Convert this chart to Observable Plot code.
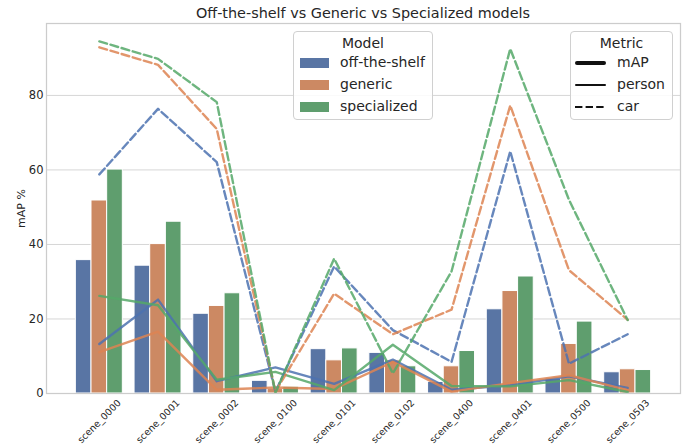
<!DOCTYPE html>
<html>
<head>
<meta charset="utf-8">
<script src="https://cdn.jsdelivr.net/npm/d3@7"></script>
<script src="https://cdn.jsdelivr.net/npm/@observablehq/plot@0.6"></script>
<style>
  html, body { margin: 0; padding: 0; background: #fff; }
  body { font-family: "DejaVu Sans", sans-serif; color: #262626; }
  #wrap { position: relative; width: 691px; height: 444px; overflow: hidden; }
  #title { position: absolute; left: 46px; width: 634px; top: 5px; text-align: center; font-size: 14.4px; color: #262626; white-space: nowrap; }
  .legend { position: absolute; border: 1px solid #d0d0d0; border-radius: 4px; background: rgba(255,255,255,0.85); box-sizing: border-box; }
  .legend .lt { position: absolute; left: 0; right: 0; top: 3px; text-align: center; font-size: 14px; }
  .legend .item { position: absolute; font-size: 14px; white-space: nowrap; }
  .legend .sw { position: absolute; }
</style>
</head>
<body>
<div id="wrap">
  <div id="chart"></div>
  <div id="title">Off-the-shelf vs Generic vs Specialized models</div>
  <div class="legend" id="legModel" style="left:293px; top:31px; width:140px; height:89px;"></div>
  <div class="legend" id="legMetric" style="left:570px; top:31px; width:103px; height:89px;"></div>
</div>
<script>
// ---- data ----
const scenes = ["scene_0000","scene_0001","scene_0002","scene_0100","scene_0101","scene_0102","scene_0400","scene_0401","scene_0500","scene_0503"];
const models = ["off-the-shelf","generic","specialized"];
const metrics = ["mAP","person","car"];

const mapOffTheShelf = [35.8, 34.3, 21.4, 3.4, 11.9, 10.9, 3.1, 22.6, 4.0, 5.7];
const mapGeneric     = [51.8, 40.1, 23.5, 1.2, 8.9, 8.9, 7.3, 27.5, 13.3, 6.5];
const mapSpecialized = [60.1, 46.1, 26.9, 1.8, 12.1, 7.3, 11.4, 31.4, 19.3, 6.3];

const personOffTheShelf = [13.3, 25.2, 3.3, 7.0, 2.6, 9.1, 1.0, 2.2, 4.6, 1.5];
const personGeneric     = [11.1, 16.6, 1.0, 1.6, 1.2, 8.5, 0.5, 2.8, 4.9, 0.9];
const personSpecialized = [26.2, 23.7, 3.7, 5.8, 0.9, 13.1, 2.0, 1.9, 3.6, 0.4];

const carOffTheShelf = [58.8, 76.4, 62.1, 0.5, 34.1, 17.0, 8.5, 65.0, 8.0, 15.9];
const carGeneric     = [92.9, 88.2, 71.0, 0.5, 26.8, 15.9, 22.5, 77.3, 33.1, 19.8];
const carSpecialized = [94.5, 89.8, 78.2, 0.2, 36.2, 5.4, 32.8, 92.5, 52.0, 19.7];

const yTicks = [0, 20, 40, 60, 80];

// ---- styling ----
const barColors  = ["#5975a4", "#cc8963", "#5f9e6e"];
const lineColors = ["#4c72b0", "#dd8452", "#55a868"];
const groupWidth = 0.8;
const bw = groupWidth / models.length;

const mapSeries = [mapOffTheShelf, mapGeneric, mapSpecialized];
const personSeries = [personOffTheShelf, personGeneric, personSpecialized];
const carSeries = [carOffTheShelf, carGeneric, carSpecialized];

const barMarks = mapSeries.map((vals, k) =>
  Plot.rectY(vals.map((v, i) => ({i, v})), {
    x1: d => d.i + (k - 1) * bw - bw / 2,
    x2: d => d.i + (k - 1) * bw + bw / 2,
    y1: 0, y2: "v",
    fill: barColors[k], stroke: "white", strokeWidth: 1
  })
);
const personMarks = personSeries.map((vals, k) =>
  Plot.line(vals.map((v, i) => ({i, v})), {x: "i", y: "v", stroke: lineColors[k], strokeWidth: 2.4, strokeOpacity: 0.85})
);
const carMarks = carSeries.map((vals, k) =>
  Plot.line(vals.map((v, i) => ({i, v})), {x: "i", y: "v", stroke: lineColors[k], strokeWidth: 2.4, strokeOpacity: 0.85, strokeDasharray: "8,3.6"})
);

const chart = Plot.plot({
  width: 691,
  height: 444,
  marginTop: 23,
  marginLeft: 46,
  marginRight: 11,
  marginBottom: 51,
  style: {fontFamily: "DejaVu Sans, sans-serif", color: "#262626", background: "transparent"},
  x: {domain: [-0.9, 9.9], axis: null},
  y: {domain: [0, 99.3], axis: null},
  marks: [
    Plot.gridY(yTicks, {stroke: "#d6d6d6", strokeOpacity: 1, strokeWidth: 1}),
    Plot.axisY(yTicks, {tickSize: 0, tickPadding: 3, fontSize: 11.5, label: null, tickFormat: d => String(d)}),
    ...barMarks,
    ...personMarks,
    ...carMarks,
    Plot.frame({stroke: "#cccccc", strokeWidth: 1.25}),
    Plot.text(scenes, {x: (d, i) => i, text: d => d, frameAnchor: "bottom", dy: 28, rotate: -45, textAnchor: "middle", lineAnchor: "middle", fontSize: 9.5, fill: "#262626"}),
    Plot.text(["mAP %"], {frameAnchor: "left", dx: -25, rotate: -90, textAnchor: "middle", lineAnchor: "middle", fontSize: 11, fill: "#262626"})
  ]
});
document.getElementById("chart").appendChild(chart);

// ---- legends ----
const lm = document.getElementById("legModel");
lm.innerHTML = `<div class="lt">Model</div>` + models.map((m, k) => {
  const cy = 31 + 22 * k;
  return `<div class="sw" style="left:6px; top:${cy - 5}px; width:29px; height:10px; background:${barColors[k]};"></div>` +
         `<div class="item" style="left:46px; top:${cy - 9}px; line-height:17px;">${m}</div>`;
}).join("");

const lt = document.getElementById("legMetric");
lt.innerHTML = `<div class="lt">Metric</div>` + metrics.map((m, k) => {
  const cy = 31 + 22 * k;
  const t = k === 0 ? 4 : 2;
  let sw;
  if (k === 2) {
    sw = `<svg class="sw" style="left:4px; top:${cy - 2}px;" width="31" height="4"><line x1="0" x2="31" y1="2" y2="2" stroke="#111" stroke-width="2" stroke-dasharray="7.4,3.2"/></svg>`;
  } else {
    sw = `<div class="sw" style="left:4px; top:${cy - t/2}px; width:31px; height:${t}px; background:#111; border-radius:${t/2}px;"></div>`;
  }
  return sw + `<div class="item" style="left:46px; top:${cy - 9}px; line-height:17px;">${m}</div>`;
}).join("");
</script>
</body>
</html>
